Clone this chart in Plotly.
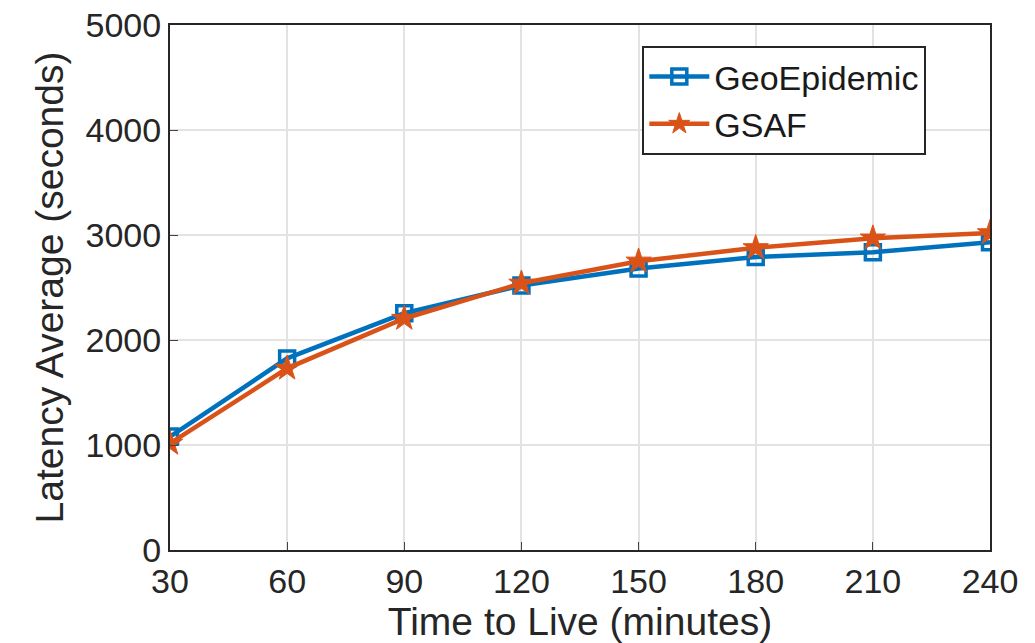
import plotly.graph_objects as go

ttl = [30, 60, 90, 120, 150, 180, 210, 240]
geo = [1080, 1825, 2255, 2520, 2680, 2790, 2835, 2930]
gsaf = [1015, 1730, 2205, 2540, 2750, 2878, 2970, 3020]

blue = "#0072BD"
orange = "#D95319"

fig = go.Figure()
fig.add_trace(go.Scatter(x=ttl, y=geo, name="GeoEpidemic", mode="lines+markers",
                         line=dict(color=blue, width=4.5),
                         marker=dict(symbol="square-open", size=15, color=blue, line=dict(width=3.5))))
fig.add_trace(go.Scatter(x=ttl, y=gsaf, name="GSAF", mode="lines+markers",
                         line=dict(color=orange, width=4.5),
                         marker=dict(symbol="star", size=19, color=orange, line=dict(width=1, color=orange))))

font = "Liberation Sans, Arial, sans-serif"
fig.update_layout(
    width=1035, height=643,
    margin=dict(l=170, r=45, t=25, b=93, autoexpand=False),
    paper_bgcolor="white", plot_bgcolor="white",
    font=dict(family=font, size=34, color="#262626"),
    showlegend=True,
    legend=dict(x=0.576, y=0.96, xanchor="left", yanchor="top",
                bgcolor="white", bordercolor="#262626", borderwidth=2,
                font=dict(size=34, color="#1a1a1a"), tracegroupgap=0, itemwidth=60),
)
fig.update_xaxes(range=[30, 240], tickvals=ttl, ticks="inside", ticklen=8,
                 showgrid=True, gridcolor="#e3e3e3", gridwidth=2,
                 showline=True, linecolor="#262626", linewidth=2, mirror=True,
                 zeroline=False, automargin=False,
                 title=dict(text="Time to Live (minutes)", font=dict(size=39), standoff=0),
                 tickfont=dict(size=34))
fig.update_yaxes(range=[0, 5000], tickvals=[0, 1000, 2000, 3000, 4000, 5000], ticks="inside", ticklen=8,
                 showgrid=True, gridcolor="#e3e3e3", gridwidth=2,
                 showline=True, linecolor="#262626", linewidth=2, mirror=True,
                 zeroline=False, automargin=False,
                 title=dict(text="Latency Average (seconds)", font=dict(size=39), standoff=10),
                 tickfont=dict(size=34))

fig.write_html("out.html")
